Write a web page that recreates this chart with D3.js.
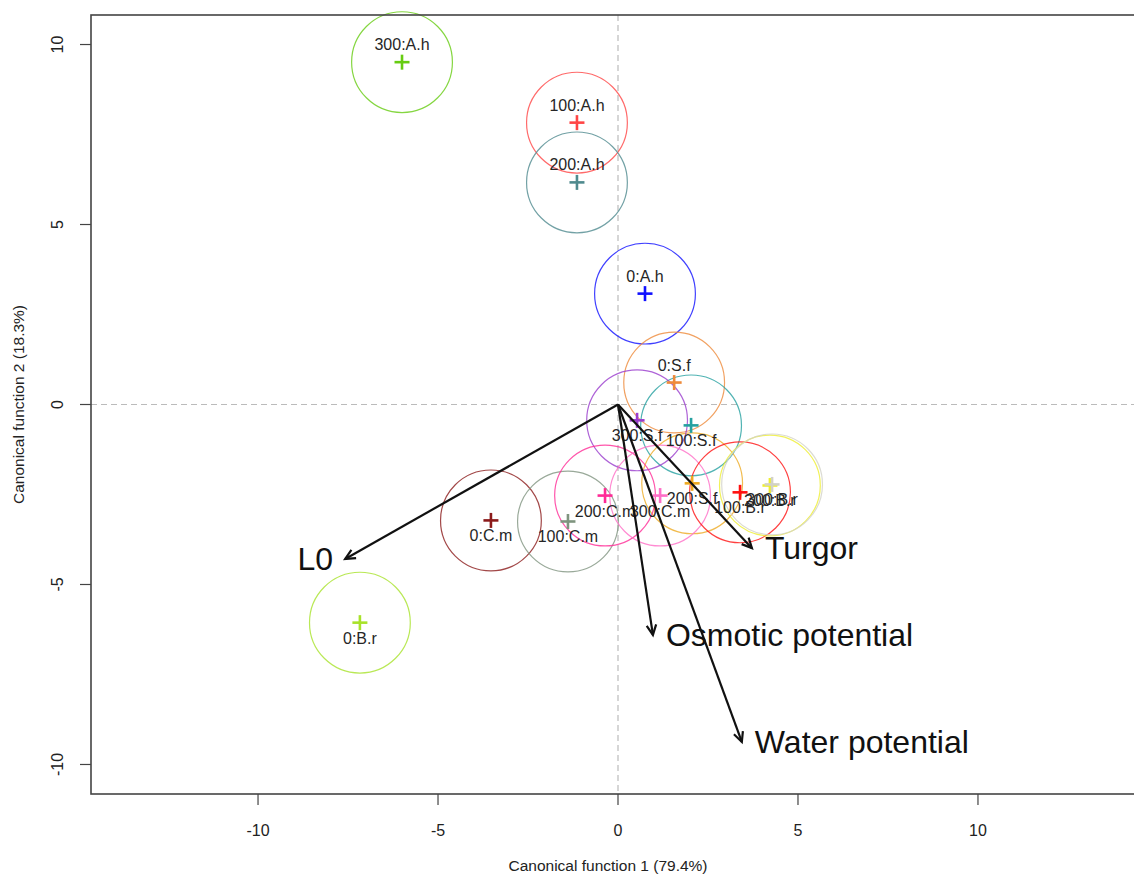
<!DOCTYPE html>
<html>
<head>
<meta charset="utf-8">
<script src="https://cdn.jsdelivr.net/npm/d3@7"></script>
<style>
  html, body { margin: 0; padding: 0; background: #fff; }
  svg { display: block; font-family: "Liberation Sans", Arial, sans-serif; }
</style>
</head>
<body>
<svg id="chart" width="1134" height="876"></svg>
<script>
// Group centroids on the two canonical functions
const groups = ["0:A.h", "100:A.h", "200:A.h", "300:A.h",
                "0:S.f", "100:S.f", "200:S.f", "300:S.f",
                "0:C.m", "100:C.m", "200:C.m", "300:C.m",
                "0:B.r", "100:B.r", "200:B.r", "300:B.r"];
const can1 = [0.75, -1.14, -1.14, -6.00,
              1.56, 2.03, 2.06, 0.53,
              -3.53, -1.39, -0.36, 1.17,
              -7.17, 3.39, 4.22, 4.28];
const can2 = [3.08, 7.83, 6.17, 9.51,
              0.61, -0.58, -2.19, -0.44,
              -3.22, -3.25, -2.53, -2.53,
              -6.06, -2.44, -2.25, -2.22];
const groupColors = ["#1010ff", "#ff4545", "#4f8a8e", "#66cc11",
                     "#ee8a3a", "#25a0a0", "#eeaa22", "#9a3ccd",
                     "#8b1a1a", "#7f947f", "#ff2a96", "#ff6ec7",
                     "#a8e22a", "#ff1010", "#eeee30", "#d2d2c8"];
const circleRadius = 1.4;

// Structure coefficients drawn as vectors
const variables = ["L0", "Turgor", "Osmotic potential", "Water potential"];
const vecX = [-7.58, 3.72, 0.97, 3.44];
const vecY = [-4.29, -3.99, -6.40, -9.375];

// Axes
const xTicks = [-10, -5, 0, 5, 10];
const yTicks = [-10, -5, 0, 5, 10];
const xTitle = "Canonical function 1 (79.4%)";
const yTitle = "Canonical function 2 (18.3%)";

const svg = d3.select("#chart");
const mLeft = 91, mRight = 1145, mTop = 15, mBottom = 794;

const x = d3.scaleLinear().domain([-14.64, 14.64]).range([mLeft, mRight]);
const y = d3.scaleLinear().domain([-10.82, 10.82]).range([mBottom, mTop]);

const plot = svg.append("g");

// Reference lines through the origin
plot.append("line")
  .attr("x1", x(0)).attr("x2", x(0)).attr("y1", mTop).attr("y2", mBottom)
  .attr("stroke", "#bbb").attr("stroke-width", 1.2).attr("stroke-dasharray", "6,4");
plot.append("line")
  .attr("x1", mLeft).attr("x2", mRight).attr("y1", y(0)).attr("y2", y(0))
  .attr("stroke", "#bbb").attr("stroke-width", 1.2).attr("stroke-dasharray", "6,4");

const data = groups.map((g, i) => ({ g, cx: can1[i], cy: can2[i], col: groupColors[i] }));

// Confidence circles
plot.selectAll("circle.grp").data(data).join("circle")
  .attr("class", "grp")
  .attr("cx", d => x(d.cx)).attr("cy", d => y(d.cy))
  .attr("r", x(circleRadius) - x(0))
  .attr("fill", "none").attr("stroke", d => d.col)
  .attr("stroke-width", 1.2).attr("stroke-opacity", 0.8);

// Centroid crosses
const half = 7.5;
const cross = plot.selectAll("g.cross").data(data).join("g")
  .attr("class", "cross")
  .attr("transform", d => `translate(${x(d.cx)},${y(d.cy)})`);
cross.append("line").attr("x1", -half).attr("x2", half)
  .attr("stroke", d => d.col).attr("stroke-width", 2.6);
cross.append("line").attr("y1", -half).attr("y2", half)
  .attr("stroke", d => d.col).attr("stroke-width", 2.6);

// Group labels: above for positive scores, below for negative
plot.selectAll("text.grp").data(data).join("text")
  .attr("class", "grp")
  .attr("x", d => x(d.cx))
  .attr("y", d => y(d.cy) + (d.cy > 0 ? -12 : 21))
  .attr("text-anchor", "middle")
  .attr("font-size", 16)
  .attr("fill", "#262626")
  .text(d => d.g);

// Variable vectors with open arrowheads
const vecs = variables.map((v, i) => ({ v, vx: vecX[i], vy: vecY[i] }));
const ox = x(0), oy = y(0);
const vg = plot.selectAll("g.vec").data(vecs).join("g").attr("class", "vec");
vg.append("line")
  .attr("x1", ox).attr("y1", oy)
  .attr("x2", d => x(d.vx)).attr("y2", d => y(d.vy))
  .attr("stroke", "#111").attr("stroke-width", 2.2);
vg.append("path")
  .attr("d", d => {
    const tx = x(d.vx), ty = y(d.vy);
    const a = Math.atan2(ty - oy, tx - ox);
    const len = 11, spread = Math.PI / 7;
    const p1 = [tx - len * Math.cos(a - spread), ty - len * Math.sin(a - spread)];
    const p2 = [tx - len * Math.cos(a + spread), ty - len * Math.sin(a + spread)];
    return `M${p1[0]},${p1[1]}L${tx},${ty}L${p2[0]},${p2[1]}`;
  })
  .attr("fill", "none").attr("stroke", "#111").attr("stroke-width", 2.2);
vg.append("text")
  .attr("x", d => x(d.vx) + (d.vx < 0 ? -12 : 13))
  .attr("y", d => y(d.vy) + 11)
  .attr("text-anchor", d => d.vx < 0 ? "end" : "start")
  .attr("font-size", 32)
  .attr("fill", "#111")
  .text(d => d.v);

// Frame
svg.append("rect")
  .attr("x", mLeft).attr("y", mTop).attr("width", mRight - mLeft).attr("height", mBottom - mTop)
  .attr("fill", "none").attr("stroke", "#444").attr("stroke-width", 1.6);

// Bottom axis
const xa = svg.append("g");
xa.selectAll("line").data(xTicks).join("line")
  .attr("x1", d => x(d)).attr("x2", d => x(d))
  .attr("y1", mBottom).attr("y2", mBottom + 11)
  .attr("stroke", "#444").attr("stroke-width", 1.2);
xa.selectAll("text").data(xTicks).join("text")
  .attr("x", d => x(d)).attr("y", 836)
  .attr("text-anchor", "middle").attr("font-size", 16).attr("fill", "#222")
  .text(d => d);
svg.append("text")
  .attr("x", (x(-14.64) + x(14.64)) / 2 - 10).attr("y", 871)
  .attr("text-anchor", "middle").attr("font-size", 15.5).attr("fill", "#222")
  .text(xTitle);

// Left axis
const ya = svg.append("g");
ya.selectAll("line").data(yTicks).join("line")
  .attr("x1", mLeft - 11).attr("x2", mLeft)
  .attr("y1", d => y(d)).attr("y2", d => y(d))
  .attr("stroke", "#444").attr("stroke-width", 1.2);
ya.selectAll("text").data(yTicks).join("text")
  .attr("transform", d => `translate(63,${y(d)}) rotate(-90)`)
  .attr("text-anchor", "middle").attr("font-size", 16).attr("fill", "#222")
  .text(d => d);
svg.append("text")
  .attr("transform", `translate(24,${y(0)}) rotate(-90)`)
  .attr("text-anchor", "middle").attr("font-size", 15.5).attr("fill", "#222")
  .text(yTitle);
</script>
</body>
</html>
